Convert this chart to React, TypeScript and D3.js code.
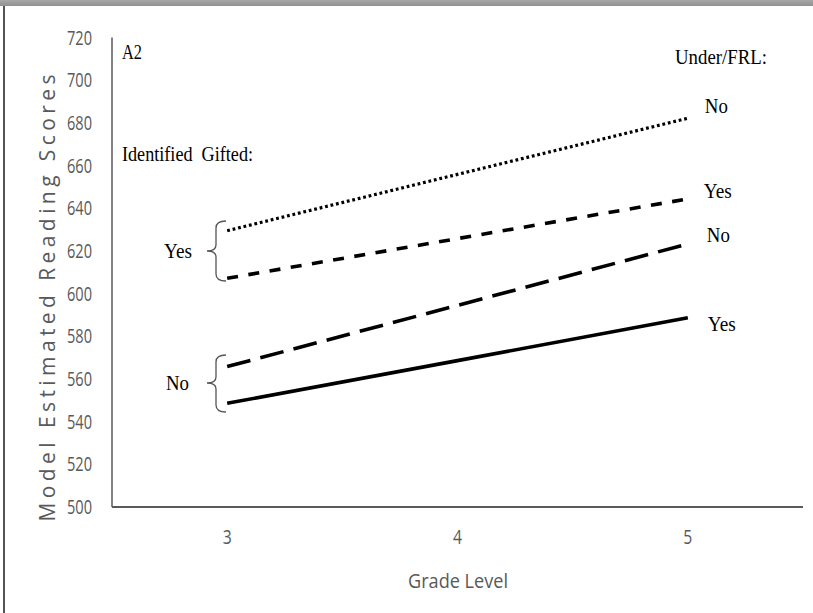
import React from "react";
import * as d3 from "d3";

const grades = ["3", "4", "5"];
const yTicks = [500, 520, 540, 560, 580, 600, 620, 640, 660, 680, 700, 720];
const giftedYesFrlNo = [629.5, 655.9, 682.2];
const giftedYesFrlYes = [607.2, 625.8, 644.4];
const giftedNoFrlNo = [565.8, 594.5, 623.3];
const giftedNoFrlYes = [548.6, 568.6, 588.7];
const rightLabels = ["No", "Yes", "No", "Yes"];

const W = 813;
const H = 613;
const sans = "'Open Sans', 'Noto Sans', sans-serif";
const serif = "'Liberation Serif', 'Times New Roman', serif";
const gray = "#595959";

export default function App() {
  const x = d3.scaleBand<string>().domain(grades).range([112, 803]);
  const xc = (g: string) => (x(g) as number) + x.bandwidth() / 2;
  const y = d3.scaleLinear().domain([500, 720]).range([507, 37.6]);
  const line = d3
    .line<number>()
    .x((_, i) => xc(grades[i]))
    .y((v) => y(v));

  const series = [
    { values: giftedYesFrlNo, dash: "2.8,2.8", width: 3.2, labelDx: 17, labelBase: 113 },
    { values: giftedYesFrlYes, dash: "11,10.5", width: 3.6, labelDx: 16, labelBase: 198 },
    { values: giftedNoFrlNo, dash: "24,10.3", width: 3.6, labelDx: 19, labelBase: 242 },
    { values: giftedNoFrlYes, dash: "none", width: 3.6, labelDx: 20, labelBase: 331 },
  ];

  const brace = (top: number, bottom: number, tip: number) => {
    const xv = 216;
    const xr = 226;
    const xt = 207;
    return `M${xr},${top} Q${xv},${top} ${xv},${top + 7} L${xv},${tip - 6} Q${xv},${tip} ${xt},${tip} Q${xv},${tip} ${xv},${tip + 6} L${xv},${bottom - 7} Q${xv},${bottom} ${xr},${bottom}`;
  };

  const serifText = (
    key: string,
    tx: number,
    ty: number,
    s: string,
    len: number,
    size = 20
  ) => (
    <text
      key={key}
      x={tx}
      y={ty}
      fontFamily={serif}
      fontSize={size}
      textLength={len}
      lengthAdjust="spacingAndGlyphs"
      style={{ whiteSpace: "pre" }}
      fill="#000"
    >
      {s}
    </text>
  );

  return (
    <div style={{ position: "absolute", left: 0, top: 0 }}>
      <svg width={W} height={H} style={{ display: "block", background: "#fff" }}>
        <defs>
          <linearGradient id="topband" x1="0" y1="0" x2="0" y2="1">
            <stop offset="0" stopColor="#a8a8a8" />
            <stop offset="1" stopColor="#8f8f8f" />
          </linearGradient>
        </defs>
        <rect x={0} y={0} width={W} height={6} fill="url(#topband)" />
        <line x1={4} x2={4} y1={6} y2={H} stroke="#555" strokeWidth={2} />

        {/* axes */}
        <line x1={112} x2={112} y1={y(720)} y2={y(500)} stroke={gray} strokeWidth={1.5} />
        <line x1={112} x2={803} y1={y(500)} y2={y(500)} stroke={gray} strokeWidth={2} />

        {yTicks.map((t) => (
          <text
            key={t}
            x={92}
            y={y(t) + 7}
            textAnchor="end"
            fontFamily={sans}
            fontSize={20}
            fill={gray}
            textLength={25}
            lengthAdjust="spacingAndGlyphs"
          >
            {t}
          </text>
        ))}
        {grades.map((g) => (
          <text
            key={g}
            x={xc(g)}
            y={544}
            textAnchor="middle"
            fontFamily={sans}
            fontSize={20}
            fill={gray}
            textLength={9}
            lengthAdjust="spacingAndGlyphs"
          >
            {g}
          </text>
        ))}
        <text
          x={458}
          y={588}
          textAnchor="middle"
          fontFamily={sans}
          fontSize={20}
          fill={gray}
          textLength={100}
          lengthAdjust="spacingAndGlyphs"
        >
          Grade Level
        </text>
        <text
          transform={`translate(55,298) rotate(-90)`}
          textAnchor="middle"
          fontFamily={sans}
          fontSize={21}
          fill={gray}
          textLength={447}
          lengthAdjust="spacing"
        >
          Model Estimated Reading Scores
        </text>

        {/* lines */}
        {series.map((s, i) => (
          <path
            key={i}
            d={line(s.values) as string}
            fill="none"
            stroke="#000"
            strokeWidth={s.width}
            strokeDasharray={s.dash}
            strokeLinecap="butt"
          />
        ))}

        {/* annotations */}
        {serifText("a2", 122, 59, "A2", 20)}
        {serifText("ig", 122, 161, "Identified  Gifted:", 131)}
        {serifText("uf", 675, 64, "Under/FRL:", 92)}
        {series.map((s, i) =>
          serifText(
            "r" + i,
            xc("5") + s.labelDx,
            s.labelBase,
            rightLabels[i],
            rightLabels[i] === "Yes" ? 28 : 23
          )
        )}

        <path d={brace(221, 281, 251)} fill="none" stroke="#555" strokeWidth={1.3} />
        <path d={brace(355, 412, 383)} fill="none" stroke="#555" strokeWidth={1.3} />
        {serifText("ly", 164, 258, "Yes", 28)}
        {serifText("ln", 166, 390, "No", 23)}
      </svg>
    </div>
  );
}
